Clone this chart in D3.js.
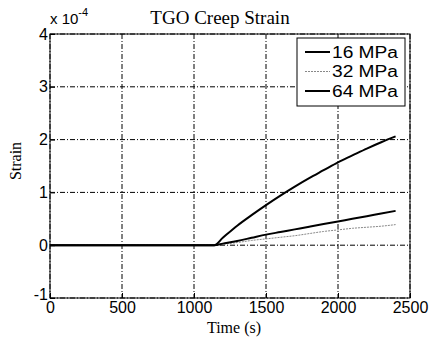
<!DOCTYPE html>
<html>
<head>
<meta charset="utf-8">
<script src="https://cdn.jsdelivr.net/npm/d3@7"></script>
<style>
  body { margin: 0; background: #fff; }
  .tick text { font-family: "Liberation Sans", Arial, sans-serif; font-size: 16px; fill: #000; }
  .serif { font-family: "Liberation Serif", "Times New Roman", serif; fill: #000; }
</style>
</head>
<body>
<div id="chart"></div>
<script>
// time samples (s) and strain (x 1e-4) for each load
var time = [0, 500, 1000, 1140, 1200, 1300, 1400, 1500, 1600, 1700, 1800, 1900, 2000, 2100, 2200, 2300, 2400];
var s16 = [0, 0, 0, 0, 0.03, 0.08, 0.14, 0.2, 0.25, 0.3, 0.35, 0.4, 0.45, 0.5, 0.55, 0.6, 0.65];
var s32 = [0, 0, 0, 0, 0.02, 0.05, 0.09, 0.12, 0.15, 0.18, 0.22, 0.26, 0.29, 0.32, 0.34, 0.36, 0.39];
var s64 = [0, 0, 0, 0, 0.14, 0.37, 0.57, 0.76, 0.94, 1.11, 1.27, 1.42, 1.57, 1.7, 1.83, 1.95, 2.06];
var labels = ["16 MPa", "32 MPa", "64 MPa"];
var xTicks = [0, 500, 1000, 1500, 2000, 2500];
var yTicks = [-1, 0, 1, 2, 3, 4];

var width = 435, height = 339;
var margin = {top: 34, right: 25, bottom: 41, left: 50};
var w = width - margin.left - margin.right,
    h = height - margin.top - margin.bottom;

var svg = d3.select("#chart").append("svg")
    .attr("width", width)
    .attr("height", height);

var g = svg.append("g")
    .attr("transform", "translate(" + margin.left + "," + margin.top + ")");

var x = d3.scaleLinear().domain([0, 2500]).range([0, w]);
var y = d3.scaleLinear().domain([-1, 4]).range([h, 0]);

// grid
g.selectAll(".gx").data(xTicks).enter().append("line")
    .attr("x1", function(d) { return x(d); })
    .attr("x2", function(d) { return x(d); })
    .attr("y1", 0).attr("y2", h)
    .style("stroke", "#000").style("stroke-width", 1)
    .style("stroke-dasharray", "5,2,1,2");
g.selectAll(".gy").data(yTicks).enter().append("line")
    .attr("y1", function(d) { return y(d); })
    .attr("y2", function(d) { return y(d); })
    .attr("x1", 0).attr("x2", w)
    .style("stroke", "#000").style("stroke-width", 1)
    .style("stroke-dasharray", "5,2,1,2");

// box
g.append("rect")
    .attr("width", w).attr("height", h)
    .style("fill", "none").style("stroke", "#000").style("stroke-width", 1);

// axes
var xAxis = g.append("g")
    .attr("transform", "translate(0," + h + ")")
    .call(d3.axisBottom(x).tickValues(xTicks).tickFormat(d3.format("d")).tickSize(-5).tickPadding(4));
var yAxis = g.append("g")
    .call(d3.axisLeft(y).tickValues(yTicks).tickFormat(d3.format("d")).tickSize(-5).tickPadding(2));
xAxis.select(".domain").remove();
yAxis.select(".domain").remove();
g.selectAll(".tick line").style("stroke", "#000");
// MATLAB-style short minus, lifted a bit so it clears the "0" below
yAxis.selectAll(".tick text")
    .text(function(d) { return d < 0 ? "-" + Math.abs(d) : d; })
    .attr("dy", function(d) { return d < 0 ? "0.1em" : "0.32em"; });

// series
var line = d3.line()
    .x(function(d, i) { return x(time[i]); })
    .y(function(d) { return y(d); })
    .curve(d3.curveMonotoneX);

g.append("path").datum(s32).attr("d", line)
    .style("fill", "none").style("stroke", "#888").style("stroke-width", 1)
    .style("stroke-dasharray", "2,1");
g.append("path").datum(s16).attr("d", line)
    .style("fill", "none").style("stroke", "#000").style("stroke-width", 2);
g.append("path").datum(s64).attr("d", line)
    .style("fill", "none").style("stroke", "#000").style("stroke-width", 2);

// legend
var lg = g.append("g").attr("transform", "translate(" + (w - 113) + ",4)");
lg.append("rect")
    .attr("width", 108).attr("height", 68)
    .style("fill", "#fff").style("stroke", "#000").style("stroke-width", 1);
var styles = [
  {c: "#000", sw: 2, da: null},
  {c: "#888", sw: 1, da: "2,1"},
  {c: "#000", sw: 2, da: null}
];
labels.forEach(function(l, i) {
  var yy = 14 + i * 19.5;
  lg.append("line")
      .attr("x1", 8).attr("x2", 33).attr("y1", yy).attr("y2", yy)
      .style("stroke", styles[i].c).style("stroke-width", styles[i].sw)
      .style("stroke-dasharray", styles[i].da);
  lg.append("text")
      .attr("x", 35).attr("y", yy + 5.5)
      .attr("textLength", 66)
      .attr("lengthAdjust", "spacingAndGlyphs")
      .style("font-family", "Liberation Sans, Arial, sans-serif")
      .style("font-size", "16px")
      .text(l);
});

// titles
svg.append("text").attr("class", "serif")
    .attr("x", 220).attr("y", 24)
    .attr("text-anchor", "middle")
    .style("font-size", "19px")
    .text("TGO Creep Strain");

var ex = svg.append("text")
    .attr("x", 50).attr("y", 24)
    .style("font-family", "Liberation Sans, Arial, sans-serif")
    .style("font-size", "15px");
ex.append("tspan").text("x 10");
ex.append("tspan").attr("dy", -8).style("font-size", "11px").text("-4");

svg.append("text").attr("class", "serif")
    .attr("x", 234).attr("y", 333)
    .attr("text-anchor", "middle")
    .style("font-size", "16px")
    .text("Time (s)");

svg.append("text").attr("class", "serif")
    .attr("transform", "translate(21," + (margin.top + h / 2 - 5) + ") rotate(-90)")
    .attr("text-anchor", "middle")
    .style("font-size", "16px")
    .text("Strain");
</script>
</body>
</html>
